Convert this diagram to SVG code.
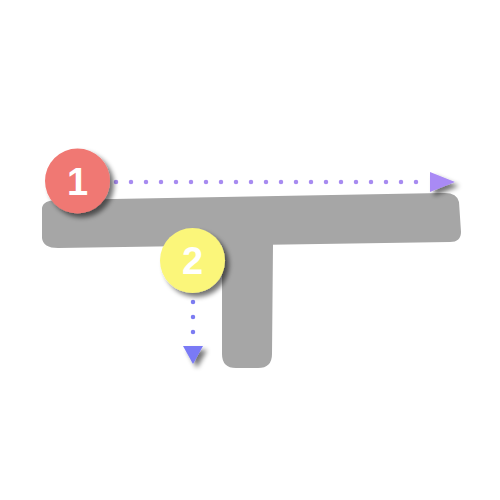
<svg xmlns="http://www.w3.org/2000/svg" width="500" height="500" viewBox="0 0 500 500">
<defs>
<filter id="sh" x="-30%" y="-30%" width="170%" height="170%">
<feGaussianBlur in="SourceAlpha" stdDeviation="2.5"/>
<feOffset dx="4" dy="4" result="b"/>
<feComponentTransfer><feFuncA type="linear" slope="0.55"/></feComponentTransfer>
<feMerge><feMergeNode/><feMergeNode in="SourceGraphic"/></feMerge>
</filter>
<style>
.stroke{fill:#a6a6a6}
.dots{fill:none;stroke-width:4.5;stroke-linecap:round;stroke-dasharray:0 15}
.num{font-family:"Liberation Sans","DejaVu Sans",sans-serif;font-size:38px;font-weight:bold;fill:#ffffff;text-anchor:middle}
</style>
</defs>
<g id="strokes">
<path class="stroke" d="M42,208 Q43,200 58,200 L442,193 Q457,192 459,202 L461,232 Q461,242 450,242 L58,248 Q43,248 42,238 Z"/>
<path class="stroke" d="M222,244 L273,244 L272,354 Q272,368 258,368 L236,368 Q222,368 222,354 Z"/>
</g>
<g id="connectors">
<path class="dots" d="M116,182 L420,182" stroke="#a78bf0"/>
<polygon points="430,172 455,182 430,192" fill="#a98af5" filter="url(#sh)"/>
<path class="dots" d="M193,302 L193,334" stroke="#7c7cf2" stroke-dasharray="0 15.5"/>
<polygon points="183,346 203,346 193,364" fill="#7a7af5" filter="url(#sh)"/>
</g>
<g id="node1">
<circle cx="77.5" cy="181" r="32.5" fill="#f07873" filter="url(#sh)"/>
<text class="num" x="77.5" y="195">1</text>
</g>
<g id="node2">
<circle cx="192.5" cy="260.5" r="32.5" fill="#fbf67a" filter="url(#sh)"/>
<text class="num" x="192.5" y="274">2</text>
</g>
</svg>
